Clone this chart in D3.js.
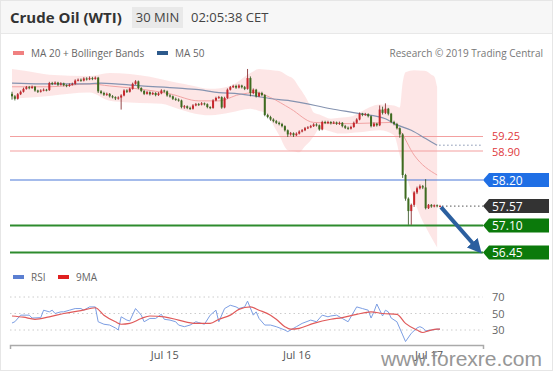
<!DOCTYPE html>
<html><head><meta charset="utf-8">
<script src="https://cdn.jsdelivr.net/npm/d3@7"></script>
<style>body{margin:0;background:#fff}svg{display:block;font-family:"Open Sans",sans-serif}</style>
</head><body><svg id="c" width="553" height="375"></svg>
<script>
// ---------- DATA ----------
const firstOpen = 60.28;
const closes = [60.22,60.16,60.27,60.33,60.40,60.44,60.42,60.45,60.36,60.33,
60.36,60.38,60.37,60.54,60.52,60.55,60.50,60.53,60.49,60.47,
60.50,60.52,60.60,60.62,60.60,60.65,60.63,60.66,60.64,60.67,
60.34,60.30,60.26,60.28,60.22,60.20,60.17,60.19,60.24,60.36,
60.33,60.40,60.52,60.58,60.42,60.35,60.28,60.32,60.27,60.30,
60.25,60.29,60.36,60.34,60.24,60.22,60.16,60.14,60.12,59.96,
59.98,59.94,59.92,60.00,60.03,60.02,60.05,60.03,59.96,59.94,
60.12,60.18,60.20,59.95,60.18,60.38,60.44,60.47,60.43,60.48,
60.44,60.40,60.66,60.30,60.38,60.22,60.30,60.25,59.77,59.72,
59.66,59.62,59.58,59.55,59.50,59.40,59.30,59.33,59.28,59.32,
59.37,59.40,59.45,59.47,59.50,59.54,59.52,59.42,59.60,59.58,
59.60,59.57,59.59,59.56,59.58,59.50,59.46,59.44,59.48,59.58,
59.66,59.80,59.77,59.79,59.74,59.50,59.56,59.52,59.90,59.82,
59.92,59.80,59.60,59.55,59.45,59.30,58.32,57.75,57.45,57.60,
57.90,58.00,58.05,58.02,57.52,57.60,57.56,57.59,57.57,57.57];
const highs = [60.33,60.25,60.30,60.36,60.43,60.47,60.47,60.48,60.47,60.38,
60.39,60.41,60.40,60.57,60.57,60.58,60.57,60.56,60.55,60.51,
60.53,60.55,60.63,60.65,60.65,60.68,60.68,60.70,60.69,60.70,
60.69,60.37,60.33,60.31,60.30,60.25,60.22,60.22,60.27,60.39,
60.39,60.43,60.55,60.61,60.60,60.44,60.37,60.35,60.34,60.33,
60.32,60.32,60.39,60.38,60.36,60.27,60.24,60.19,60.17,60.14,
60.01,60.00,59.97,60.03,60.06,60.06,60.08,60.07,60.05,59.98,
60.15,60.21,60.23,60.22,60.21,60.41,60.47,60.50,60.50,60.51,
60.50,60.47,60.88,60.70,60.41,60.40,60.33,60.33,60.27,59.80,
59.75,59.69,59.65,59.61,59.58,59.52,59.42,59.36,59.35,59.35,
59.40,59.43,59.48,59.50,59.53,59.57,59.57,59.54,59.63,59.63,
59.63,59.62,59.62,59.61,59.61,59.60,59.53,59.49,59.51,59.61,
59.69,59.83,59.82,59.82,59.81,59.76,59.59,59.58,60.00,59.97,
60.05,59.94,59.82,59.63,59.58,59.47,59.33,58.35,57.78,57.63,
57.93,58.04,58.09,58.08,58.22,57.62,57.62,57.61,57.61,57.60];
const lows = [60.14,60.12,60.14,60.25,60.31,60.38,60.39,60.40,60.33,60.30,
60.31,60.34,60.34,60.35,60.49,60.50,60.47,60.48,60.46,60.44,
60.45,60.48,60.50,60.58,60.57,60.58,60.60,60.61,60.61,60.62,
60.30,60.27,60.23,60.23,60.19,60.17,60.13,60.14,59.90,60.22,
60.30,60.31,60.38,60.50,60.39,60.32,60.25,60.26,60.24,60.25,
60.22,60.23,60.27,60.31,60.21,60.19,60.13,60.11,60.09,59.93,
59.92,59.91,59.89,59.90,59.98,59.99,60.00,60.00,59.93,59.91,
59.92,60.10,60.16,59.92,59.93,60.16,60.36,60.42,60.40,60.41,
60.41,60.37,60.38,60.22,60.27,60.19,60.20,60.22,59.74,59.69,
59.63,59.59,59.55,59.52,59.47,59.37,59.24,59.27,59.24,59.26,
59.30,59.35,59.38,59.43,59.45,59.48,59.49,59.39,59.40,59.55,
59.55,59.54,59.55,59.53,59.53,59.47,59.43,59.41,59.42,59.46,
59.56,59.64,59.74,59.75,59.71,59.47,59.48,59.49,59.50,59.78,
59.79,59.76,59.57,59.52,59.42,59.22,58.25,57.70,57.12,57.12,
57.55,57.86,57.97,57.98,57.49,57.50,57.53,57.54,57.54,57.55];

// Indicator samples (candle index, value)
const bbIdx   = [0,5,13,27,34,41,48,58,69,76,83,86,93,98,102,105,111,118,121,128,133,135,136,137,140,144,147,148];
const bbUpper = [60.88,60.83,60.74,60.71,60.78,60.76,60.69,60.54,60.40,60.47,60.78,60.88,60.83,60.64,60.23,59.83,59.68,59.73,59.83,60.02,60.00,59.95,60.55,60.80,60.85,60.83,60.70,60.45];
const bbLowIdx = [0,13,27,34,41,52,62,69,76,83,88,92,96,100,104,107,114,121,128,133,136,140,143,146,148];
const bbLower  = [60.16,60.23,60.31,60.11,60.07,60.04,59.83,59.76,59.83,59.92,59.83,59.40,58.92,58.87,59.16,59.44,59.32,59.35,59.40,59.28,58.56,57.72,57.20,56.81,56.57];
const ma20Idx = [0,13,27,34,44,55,65,72,79,85,90,97,105,118,132,135,140,148];
const ma20    = [60.45,60.45,60.52,60.47,60.40,60.28,60.11,60.11,60.26,60.31,60.19,59.92,59.59,59.56,59.59,59.40,58.80,58.32];
const ma50Idx = [0,10,27,31,45,58,65,72,79,86,93,97,111,121,130,133,139,144,148];
const ma50    = [60.54,60.52,60.52,60.54,60.47,60.42,60.38,60.31,60.28,60.21,60.14,60.11,59.92,59.80,59.68,59.56,59.40,59.20,59.04];

const rsiIdx = [0,1,3,6,7,10,11,13,14,15,17,18,20,22,24,25,27,29,30,32,34,36,37,38,40,41,43,45,46,48,50,52,53,55,57,58,60,62,64,65,67,69,71,72,74,76,78,79,81,82,84,85,86,88,90,92,95,96,99,101,104,106,108,110,111,113,115,117,118,120,122,124,125,126,127,129,130,131,132,134,136,137,139,141,142,143,144,146,148,149];
const rsiVal = [38.5,40,48,48,44.5,45,54,52,54,50,52,52,54,56,56,54,58,58,40,37,36,32.5,30,46,42,41,56,48,40,44,44,49,43,42,40,36,34,36,40,39,37,48,54,40,56,60,58,56,58,65,48,52,44,36,36,34,30,28,34,38,42,40,48,46,47,48,44,40,46,58,56,54,44.5,52,61.5,47,54,52,44.5,40,24,16,26,32.5,34,32.5,29,30,31,31];
const maRsiIdx = [0,4,8,13,18,24,29,32,36,38,41,45,48,53,58,64,69,72,76,79,83,86,90,92,95,97,100,105,111,115,120,125,129,134,137,141,143,145,148,149];
const maRsiVal = [47,45.5,43,46,50,53.5,57,48,40,37,38,44,47,46,42,38,38,43,48,55,58,54,48,43,34,31,32,38,43,45,49,52,50,49,38,30,27,29,31,31];

const dateLabels = ["Jul 15","Jul 16","Jul 17"];
const dateIdx = [53,99,145];
const levelValues = [59.25,58.90,58.20,57.57,57.10,56.45];
const levelKinds  = ["res","res","pivot","last","sup","sup"];
const rsiTicks = [70,50,30];
const lastPrice = 57.57;

// ---------- SCALES ----------
const svg = d3.select("#c");
const N = closes.length;
const opens = closes.map((c,i)=> i===0 ? firstOpen : closes[i-1]);
const x = d3.scaleLinear().domain([0, N-1]).range([12, 440]);
const y = d3.scaleLinear().domain([56.45, 59.25]).range([252.5, 136.5]);
const yr = d3.scaleLinear().domain([30, 70]).range([330, 297]);
const X0 = 10, X1 = 483;

// ---------- FRAME / HEADER ----------
svg.append("rect").attr("x",0.5).attr("y",0.5).attr("width",552).attr("height",370).attr("fill","#fff").attr("stroke","#e6e6e6");
svg.append("rect").attr("x",1).attr("y",1).attr("width",551).attr("height",32).attr("fill","#f7f7f7");
svg.append("line").attr("x1",1).attr("x2",552).attr("y1",33.5).attr("y2",33.5).attr("stroke","#e8e8e8");
svg.append("text").attr("x",10).attr("y",22.5).attr("font-size",15).attr("font-weight",700).attr("fill","#333").text("Crude Oil (WTI)");
svg.append("rect").attr("x",132).attr("y",7).attr("width",51).attr("height",21).attr("fill","#e9e9e9");
svg.append("text").attr("x",157.5).attr("y",22).attr("text-anchor","middle").attr("font-size",13).attr("fill","#444").text("30 MIN");
svg.append("text").attr("x",191).attr("y",22).attr("font-size",13).attr("fill","#444").text("02:05:38 CET");

// legend
function legendItem(x0, yy, color, label){
  svg.append("rect").attr("x",x0).attr("y",yy-2).attr("width",11).attr("height",4).attr("fill",color);
  svg.append("text").attr("x",x0+18).attr("y",yy+3.5).attr("font-size",10).attr("fill","#666").text(label);
}
legendItem(13,53,"#f08080","MA 20 + Bollinger Bands");
legendItem(157,53,"#2d5a8c","MA 50");
svg.append("text").attr("x",543).attr("y",56.5).attr("text-anchor","end").attr("font-size",10).attr("fill","#777").text("Research \u00A9 2019 Trading Central");

// ---------- BOLLINGER ----------
const upFn = d3.scaleLinear().domain(bbIdx).range(bbUpper);
const loFn = d3.scaleLinear().domain(bbLowIdx).range(bbLower);
const bandIdx = Array.from(new Set(bbIdx.concat(bbLowIdx))).sort((a,b)=>a-b);
const area = d3.area().x(d=>x(d)).y0(d=>y(loFn(d))).y1(d=>y(upFn(d))).curve(d3.curveMonotoneX);
svg.append("path").datum(bandIdx).attr("d",area).attr("fill","#fde3e3").attr("opacity",0.9);

// ---------- LEVEL LINES ----------
const levelColor = {res:"#f3a0a0", pivot:"#4a78d8", last:"#333", sup:"#2e8b2e"};
levelValues.forEach((v,k)=>{
  const kind = levelKinds[k];
  if(kind==="last") return;
  svg.append("line").attr("x1",X0).attr("x2",X1).attr("y1",y(v)).attr("y2",y(v))
    .attr("stroke",levelColor[kind]).attr("stroke-width",kind==="sup"?2:1.2);
});

// ---------- MAs ----------
const line = d3.line().x(d=>x(d[0])).y(d=>y(d[1])).curve(d3.curveMonotoneX);
svg.append("path").datum(ma20Idx.map((d,i)=>[d,ma20[i]])).attr("d",line).attr("fill","none").attr("stroke","#f2a4a4").attr("stroke-width",1);
svg.append("path").datum(ma50Idx.map((d,i)=>[d,ma50[i]])).attr("d",line).attr("fill","none").attr("stroke","#8593b0").attr("stroke-width",1.2);
svg.append("line").attr("x1",x(ma50Idx[ma50Idx.length-1])+2).attr("x2",X1).attr("y1",y(ma50[ma50.length-1])).attr("y2",y(ma50[ma50.length-1]))
  .attr("stroke","#8593b0").attr("stroke-dasharray","1.5,2.5");

// ---------- CANDLES ----------
const cg = svg.append("g");
d3.range(N).forEach(i=>{
  const o=opens[i], c=closes[i], up=c>=o;
  const col = up ? "#c8262c" : "#3e6b1f";
  cg.append("line").attr("x1",x(i)).attr("x2",x(i)).attr("y1",y(highs[i])).attr("y2",y(lows[i])).attr("stroke",up?"#7a1a1d":"#2b4a16").attr("stroke-width",0.8);
  const top=y(Math.max(o,c)), bot=y(Math.min(o,c));
  cg.append("rect").attr("x",x(i)-1).attr("width",2).attr("y",top).attr("height",Math.max(1,bot-top)).attr("fill",col);
});

// last price dotted
svg.append("line").attr("x1",x(N-1)+2).attr("x2",X1).attr("y1",y(lastPrice)).attr("y2",y(lastPrice))
  .attr("stroke","#555").attr("stroke-dasharray","1.5,2.5");

// ---------- ARROW ----------
const defs = svg.append("defs");
defs.append("marker").attr("id","ah").attr("viewBox","0 0 10 10").attr("refX",4).attr("refY",5)
  .attr("markerWidth",3.6).attr("markerHeight",3.6).attr("orient","auto")
  .append("path").attr("d","M0,0 L10,5 L0,10 z").attr("fill","#2b5f9f");
svg.append("line").attr("x1",x(N-1)+1).attr("y1",y(lastPrice)+1).attr("x2",476).attr("y2",247)
  .attr("stroke","#2b5f9f").attr("stroke-width",4).attr("marker-end","url(#ah)");

// ---------- LEVEL LABELS ----------
const boxColor = {pivot:"#1f6fe5", last:"#333333", sup:"#0b7a0b"};
levelValues.forEach((v,k)=>{
  const kind = levelKinds[k], yy = y(v);
  if(kind==="res"){
    const nudge = k===0 ? -0.6 : 0.6;
    svg.append("text").attr("x",492).attr("y",yy+4+nudge).attr("font-size",11).attr("fill","#e0383c").text(v.toFixed(2));
  } else {
    svg.append("path").attr("d",`M483,${yy} L489,${yy-7} L549,${yy-7} L549,${yy+7} L489,${yy+7} Z`).attr("fill",boxColor[kind]);
    svg.append("text").attr("x",492).attr("y",yy+4.5).attr("font-size",12).attr("fill","#fff").text(v.toFixed(2));
  }
});

// ---------- RSI PANEL ----------
legendItem(13,277,"#5b7fd1","RSI");
legendItem(58,277,"#e02020","9MA");
rsiTicks.forEach(t=>{
  svg.append("line").attr("x1",X0).attr("x2",X1).attr("y1",yr(t)).attr("y2",yr(t)).attr("stroke","#ccc").attr("stroke-dasharray","1.5,3");
  svg.append("text").attr("x",492).attr("y",yr(t)+4).attr("font-size",11).attr("fill","#666").text(t);
});
const rline = d3.line().x(d=>x(d[0])).y(d=>yr(d[1]));
svg.append("path").datum(rsiIdx.map((d,i)=>[d,rsiVal[i]])).attr("d",rline).attr("fill","none").attr("stroke","#7c9ee3").attr("stroke-width",1);
svg.append("path").datum(maRsiIdx.map((d,i)=>[d,maRsiVal[i]])).attr("d",rline.curve(d3.curveMonotoneX)).attr("fill","none").attr("stroke","#e05a5a").attr("stroke-width",1.2);

// ---------- X AXIS ----------
const xa = d3.scaleLinear().domain([x.invert(X0), x.invert(X1)]).range([X0, X1]);
const ax = svg.append("g").attr("transform","translate(0,345)")
  .call(d3.axisBottom(xa).tickValues(dateIdx).tickFormat((d,i)=>dateLabels[i]).tickSizeInner(0).tickSizeOuter(4).tickPadding(6));
ax.select(".domain").attr("stroke","#aaa").attr("stroke-width",1.5);
ax.selectAll("text").attr("font-size",11).attr("fill","#555").attr("font-family","Open Sans, sans-serif");

// watermark
svg.append("text").attr("x",542).attr("y",366).attr("text-anchor","end").attr("font-size",21)
  .attr("font-family","Liberation Sans, Arial, sans-serif").attr("fill","#8c8c8c").attr("opacity",0.9).text("www.forexre.com");
</script></body></html>
